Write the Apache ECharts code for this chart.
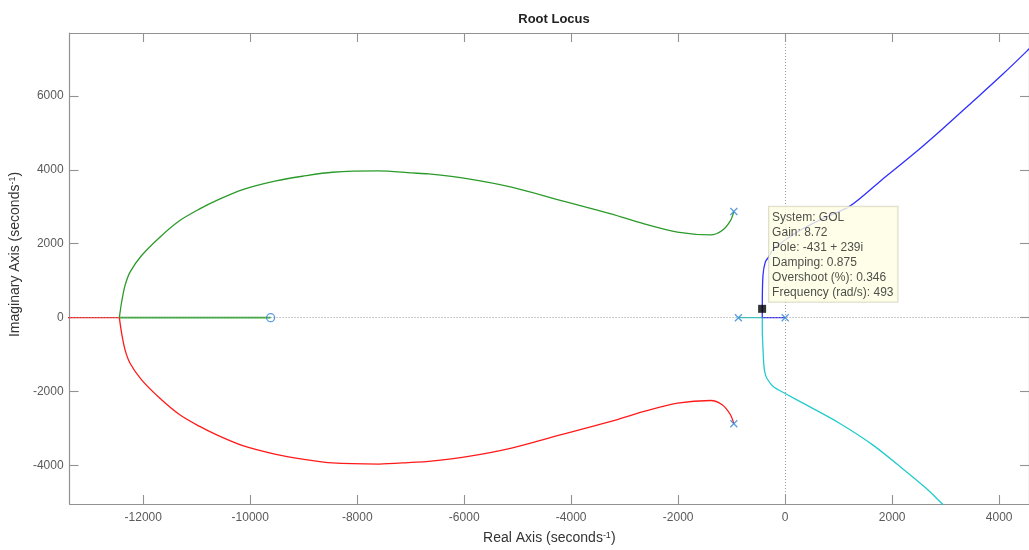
<!DOCTYPE html>
<html><head><meta charset="utf-8">
<script src="https://cdn.jsdelivr.net/npm/echarts@6/dist/echarts.min.js"></script>
<style>html,body{margin:0;padding:0;background:#fff}#c{width:1029px;height:550px}</style>
</head><body><div id="c"></div>
<script>
// ---- data ----
const xTicks = [-12000, -10000, -8000, -6000, -4000, -2000, 0, 2000, 4000];
const yTicks = [-4000, -2000, 0, 2000, 4000, 6000];
const xRange = [-13377, 4558];
const yRange = [-5040, 7700];

const poles = [[-960, 2870], [-960, -2870], [-874, 0], [0, 0]];
const zeros = [[-9619, 0]];

const greenCurve = [[-960,2870],[-1023,2626],[-1178,2356],[-1395,2240],[-2015,2313],[-2636,2537],[-3256,2807],[-4186,3166],[-5116,3528],[-5922,3752],[-6666,3887],[-6977,3914],[-7596,3968],[-8465,3933],[-9023,3825],[-9520,3698],[-10140,3463],[-10636,3166],[-10945,2942],[-11317,2626],[-11689,2178],[-12031,1682],[-12247,1233],[-12340,872],[-12404,424],[-12447,0]];
const greenReal = [[-12447,0],[-9619,0]];

const redCurve = [[-960,-2870],[-1023,-2626],[-1178,-2356],[-1395,-2240],[-2015,-2313],[-2636,-2537],[-3256,-2807],[-4186,-3166],[-5116,-3528],[-5922,-3752],[-6666,-3887],[-6977,-3914],[-7596,-3960],[-8465,-3930],[-9023,-3825],[-9520,-3698],[-10140,-3463],[-10636,-3166],[-10945,-2942],[-11317,-2626],[-11689,-2178],[-12031,-1682],[-12247,-1233],[-12340,-872],[-12404,-424],[-12447,0]];
const redReal = [[-14500,0],[-12447,0]];

const blueReal = [[0,0],[-428,0]];
const blueCurve = [[-428,0],[-428,262],[-415,1142],[-372,1503],[-311,1638],[-220,1850],[0,2100],[300,2380],[700,2680],[1209,3017],[1799,3718],[2387,4411],[2945,5112],[3503,5840],[4061,6576],[4527,7223],[4800,7620]];

const cyanReal = [[-874,0],[-428,0]];
const cyanCurve = [[-428,0],[-428,-297],[-415,-837],[-400,-1250],[-380,-1480],[-340,-1646],[-218,-1871],[0,-2051],[404,-2367],[1023,-2861],[1643,-3447],[2264,-4165],[2636,-4615],[2958,-5066],[3100,-5250]];

const dataTip = [-431, 239];
const dataTipLines = ['System: GOL', 'Gain: 8.72', 'Pole: -431 + 239i', 'Damping: 0.875', 'Overshoot (%): 0.346', 'Frequency (rad/s): 493'];

// ---- chart ----
const FONT = "'Liberation Sans', Arial, Helvetica, sans-serif";
const axisGray = '#929292';
const chart = echarts.init(document.getElementById('c'), null, {renderer: 'canvas'});

function xAxisCfg(pos, labels) {
  return {
    type: 'value', position: pos, min: xRange[0], max: xRange[1],
    axisLine: {show: true, onZero: false, lineStyle: {color: axisGray, width: 1.2}},
    axisTick: {show: true, inside: true, length: 9, customValues: xTicks, lineStyle: {color: axisGray, width: 1.1}},
    axisLabel: {show: labels, customValues: xTicks, formatter: v => String(v), color: '#5a5a5a', fontSize: 12, fontFamily: FONT, margin: 8},
    splitLine: {show: false}
  };
}
function yAxisCfg(pos, labels) {
  return {
    type: 'value', position: pos, min: yRange[0], max: yRange[1],
    axisLine: {show: true, onZero: false, lineStyle: {color: axisGray, width: 1.2}},
    axisTick: {show: true, inside: true, length: 9, customValues: yTicks, lineStyle: {color: axisGray, width: 1.1}},
    axisLabel: {show: labels, customValues: yTicks, formatter: v => String(v), color: '#5a5a5a', fontSize: 12, fontFamily: FONT, margin: 6},
    splitLine: {show: false}
  };
}
const nameRich = {a: {fontSize: 14, color: '#333', fontFamily: FONT}, s: {fontSize: 9, color: '#333', fontFamily: FONT, verticalAlign: 'top'}};
const xb = xAxisCfg('bottom', true);
xb.name = '{a|Real Axis (seconds}{s|-1}{a|)}';
xb.nameLocation = 'middle';
xb.nameGap = 27;
xb.nameTextStyle = {rich: nameRich};
const yl = yAxisCfg('left', true);
yl.name = '{a|Imaginary Axis (seconds}{s|-1}{a|)}';
yl.nameLocation = 'middle';
yl.nameGap = 38;
yl.nameTextStyle = {padding: [0, 0, 0, 28], rich: nameRich};

function lineSeries(data, color, width, smooth) {
  return {type: 'line', data: data, showSymbol: false, symbol: 'none', smooth: smooth, clip: true,
    lineStyle: {color: color, width: width}, z: 3, silent: true, animation: false};
}

const option = {
  animation: false,
  backgroundColor: '#ffffff',
  title: {text: 'Root Locus', left: 549, top: 8, textAlign: 'center',
    textStyle: {fontSize: 13, fontWeight: 'bold', color: '#222', fontFamily: FONT}},
  grid: {left: 66, right: -1, top: 33, bottom: 44.5, containLabel: false},
  xAxis: [xb, xAxisCfg('top', false)],
  yAxis: [yl, yAxisCfg('right', false)],
  series: [
    {type: 'line', data: [], z: 1, silent: true,
      markLine: {silent: true, symbol: 'none', label: {show: false}, animation: false,
        lineStyle: {color: '#9a9a9a', type: [1, 2], width: 1},
        data: [{xAxis: 0}, {yAxis: 0}]}},
    lineSeries(redReal, '#ff1a1a', 1.3, false),
    lineSeries(greenReal, '#2ea82e', 1.6, false),
    lineSeries(greenCurve, '#2a9a2a', 1.3, 0.3),
    lineSeries(redCurve, '#ff1a1a', 1.3, 0.3),
    lineSeries(cyanReal, '#22cccc', 1.3, false),
    lineSeries(cyanCurve, '#22cccc', 1.3, 0.3),
    lineSeries(blueReal, '#2f2fff', 1.3, false),
    lineSeries(blueCurve, '#2f2fff', 1.3, 0.3),
    {type: 'scatter', data: poles, symbol: 'path://M0,0L10,10M10,0L0,10', symbolSize: 7, z: 5, silent: true,
      itemStyle: {color: 'none', borderColor: '#2f86d6', borderWidth: 1.3}},
    {type: 'scatter', data: zeros, symbol: 'circle', symbolSize: 8, z: 5, silent: true,
      itemStyle: {color: 'none', borderColor: '#2f86d6', borderWidth: 1.3}},
    {type: 'scatter', data: [dataTip], symbol: 'rect', symbolSize: 8, z: 10, silent: true,
      itemStyle: {color: '#000'},
      label: {show: true, position: [11, -98], align: 'left', verticalAlign: 'top',
        formatter: dataTipLines.join('\n'), fontSize: 12, lineHeight: 15, color: '#222', fontFamily: FONT,
        backgroundColor: '#ffffe4', borderColor: '#d2d2bc', borderWidth: 1, padding: [3, 4, 2, 3]}}
  ]
};
chart.setOption(option);
</script></body></html>
